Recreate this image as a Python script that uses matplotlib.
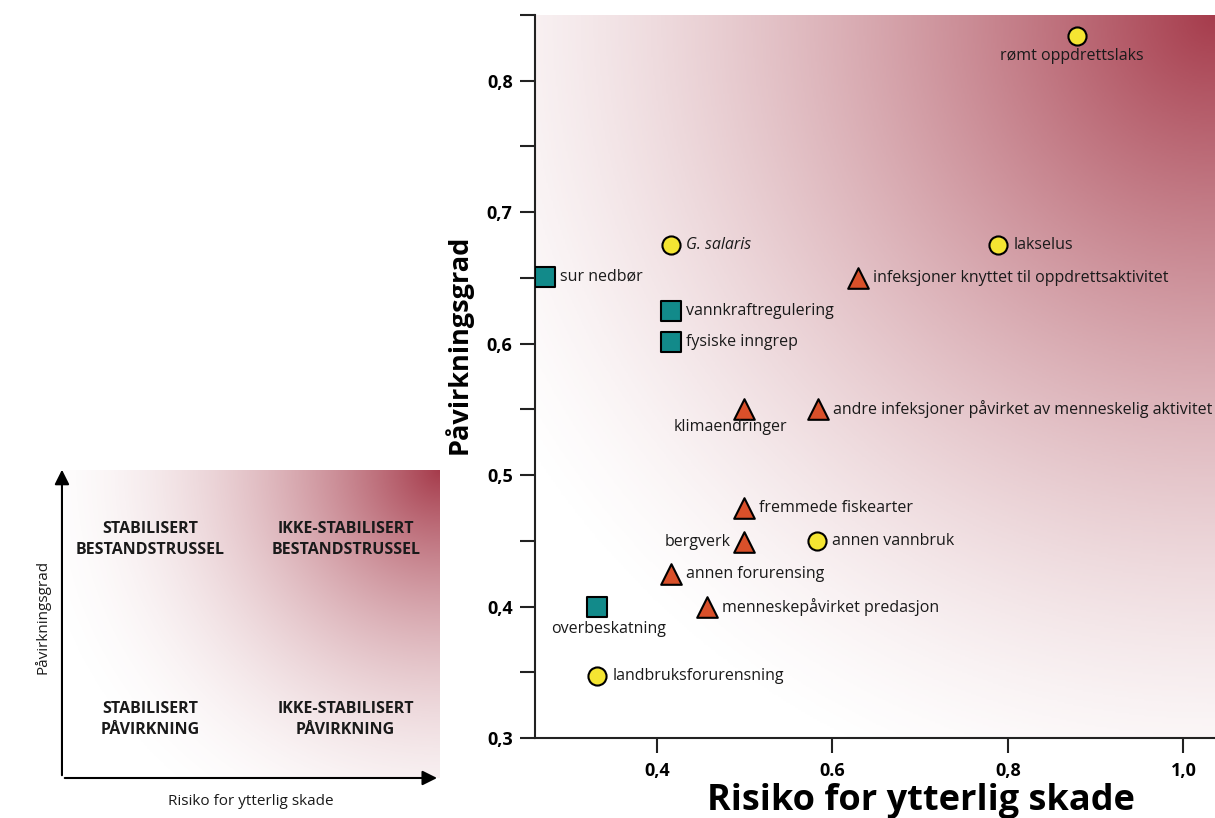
import numpy as np
import matplotlib
matplotlib.use("Agg")
import matplotlib.pyplot as plt
from matplotlib.colors import LinearSegmentedColormap

plt.rcParams['font.family'] = ['Open Sans', 'DejaVu Sans']

# data: (label, risk, impact)
circ_labels = ["rømt oppdrettslaks", "G. salaris", "lakselus", "annen vannbruk", "landbruksforurensning"]
circ_x = [0.879, 0.416, 0.789, 0.582, 0.332]
circ_y = [0.834, 0.675, 0.675, 0.450, 0.347]

sq_labels = ["sur nedbør", "vannkraftregulering", "fysiske inngrep", "overbeskatning"]
sq_x = [0.273, 0.416, 0.416, 0.332]
sq_y = [0.651, 0.625, 0.601, 0.400]

tri_labels = ["infeksjoner knyttet til oppdrettsaktivitet", "klimaendringer",
              "andre infeksjoner påvirket av menneskelig aktivitet", "fremmede fiskearter",
              "bergverk", "annen forurensing", "menneskepåvirket predasjon"]
tri_x = [0.629, 0.499, 0.583, 0.499, 0.499, 0.416, 0.457]
tri_y = [0.650, 0.550, 0.550, 0.475, 0.449, 0.425, 0.400]

xticks = [0.4, 0.6, 0.8, 1.0]
xticklabels = ["0,4", "0.6", "0,8", "1,0"]
yticks = [0.3, 0.4, 0.5, 0.6, 0.7, 0.8]
yticklabels = ["0,3", "0,4", "0,5", "0,6", "0,7", "0,8"]

quad_labels = ["STABILISERT\nBESTANDSTRUSSEL", "IKKE-STABILISERT\nBESTANDSTRUSSEL",
               "STABILISERT\nPÅVIRKNING", "IKKE-STABILISERT\nPÅVIRKNING"]

# label placement (pixel offsets, alignment)
place = {
    "rømt oppdrettslaks": (-5, -20, "center"),
    "klimaendringer": (-13, -18, "center"),
    "overbeskatning": (11, -22, "center"),
    "bergverk": (-13, 0, "right"),
}

red = "#a63c4c"
cmap = LinearSegmentedColormap.from_list("wr", ["#ffffff", red], N=256)


def gradient(ax, w, h, reach, gamma):
    # glow spreading out from the top-right corner (w, h in pixels)
    u = np.linspace(0, 1, 400)
    v = np.linspace(0, 1, 400)
    U, V = np.meshgrid(u, v)
    d = np.sqrt(((1 - U) * w) ** 2 + ((1 - V) * h) ** 2) / reach
    f = np.clip(1 - d, 0, 1) ** gamma
    ax.imshow(f, cmap=cmap, origin="lower", extent=[0, 1, 0, 1], transform=ax.transAxes,
              aspect="auto", zorder=0, vmin=0.0, vmax=1.0, interpolation="bilinear")


fig = plt.figure(figsize=(12.15, 8.18), dpi=100)

# main chart
ax = fig.add_axes([0.4403, 0.0978, 0.5597, 0.8839])
gradient(ax, 680, 723, 830, 1.5)
ax.set_xlim(0.261, 1.036)
ax.set_ylim(0.3, 0.85)

ax.scatter(circ_x, circ_y, s=170, marker="o", color="#f4e532", edgecolor="black", linewidth=1.5, zorder=3)
ax.scatter(sq_x, sq_y, s=190, marker="s", color="#128a8a", edgecolor="black", linewidth=1.5, zorder=3)
ax.scatter(tri_x, tri_y, s=220, marker="^", color="#d9502a", edgecolor="black", linewidth=1.5, zorder=3)

for labels, xs, ys in [(circ_labels, circ_x, circ_y), (sq_labels, sq_x, sq_y), (tri_labels, tri_x, tri_y)]:
    for lab, x, y in zip(labels, xs, ys):
        dx, dy, ha = place.get(lab, (15, 0, "left"))
        style = "italic" if lab == "G. salaris" else "normal"
        ax.annotate(lab, (x, y), xytext=(dx, dy), textcoords="offset pixels",
                    ha=ha, va="center", fontsize=11.5, style=style, color="#1a1a1a", zorder=4)

ax.set_xticks(xticks)
ax.set_xticklabels(xticklabels, fontsize=13, fontweight="bold")
ax.set_yticks(yticks)
ax.set_yticklabels(yticklabels, fontsize=13, fontweight="bold")
ax.set_yticks(np.arange(0.35, 0.86, 0.1), minor=True)
ax.tick_params(axis="both", which="both", direction="out", width=1.5, color="#222222")
ax.tick_params(axis="x", length=11, pad=6)
ax.tick_params(axis="y", which="both", length=11, pad=5)
ax.spines["top"].set_visible(False)
ax.spines["right"].set_visible(False)
for s in ["left", "bottom"]:
    ax.spines[s].set_linewidth(1.5)
    ax.spines[s].set_color("#222222")
ax.set_xlabel("Risiko for ytterlig skade", fontsize=26, fontweight="bold", va="center")
ax.xaxis.set_label_coords(0.568, -0.087)
ax.set_ylabel("Påvirkningsgrad", fontsize=19.5, fontweight="bold", va="center")
ax.yaxis.set_label_coords(-0.113, 0.544)

# inset schematic
ins = fig.add_axes([0.051, 0.0489, 0.311, 0.3765])
gradient(ins, 378, 308, 430, 2.0)
ins.set_xlim(0, 1)
ins.set_ylim(0, 1)
ins.axis("off")
ins.annotate("", xy=(0, 1.01), xytext=(0, 0), xycoords="axes fraction",
             arrowprops=dict(arrowstyle="-|>", color="black", lw=1.5, mutation_scale=22))
ins.annotate("", xy=(1.0, 0), xytext=(0, 0), xycoords="axes fraction",
             arrowprops=dict(arrowstyle="-|>", color="black", lw=1.5, mutation_scale=22))
qx = [0.233, 0.751, 0.233, 0.751]
qy = [0.775, 0.775, 0.19, 0.19]
for lab, x, y in zip(quad_labels, qx, qy):
    ins.text(x, y, lab, ha="center", va="center", fontsize=11.5, fontweight="bold",
             color="#1a1a1a", linespacing=1.45)
ins.text(0.5, -0.075, "Risiko for ytterlig skade", ha="center", va="center", fontsize=11,
         transform=ins.transAxes, color="#1a1a1a")
ins.text(-0.031, 0.523, "Påvirkningsgrad", ha="right", va="center", rotation=90, fontsize=11,
         transform=ins.transAxes, color="#1a1a1a")

fig.savefig("out.png", dpi=100)
